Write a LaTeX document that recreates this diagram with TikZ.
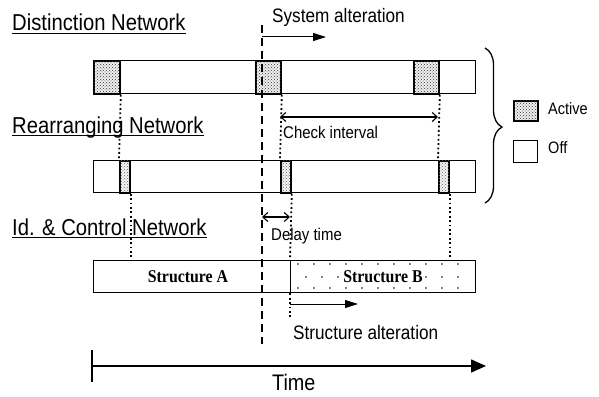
\documentclass[tikz,border=0pt]{standalone}
\usepackage{fontspec}
\setmainfont{Liberation Sans}
\newfontfamily\tnr{Liberation Serif}
\usepackage{graphicx}
\usetikzlibrary{arrows.meta,decorations.pathreplacing,patterns}
\newcommand\cnd[1]{\scalebox{0.88}[1]{#1}}
\newcommand\fs[1]{\fontsize{#1}{#1}\selectfont}
\tikzset{
  lbl/.style={inner sep=0pt, anchor=base west},
  blk/.style 2 args={anchor=north west, inner sep=0pt, minimum width=#1pt, minimum height=#2pt},
  bar/.style={draw, line width=1.3pt, fill=white},
  act/.style={draw, line width=1.8pt, fill=gray!12, postaction={pattern=crosshatch dots, pattern color=black!80}},
  actl/.style={draw, line width=1.8pt, fill=gray!8, postaction={pattern=crosshatch dots, pattern color=black!60}},
  dotl/.style={line width=1.8pt, dash pattern=on 1.8pt off 2.6pt},
  dashl/.style={line width=2pt, dash pattern=on 8pt off 5pt},
  dim/.style={line width=1.1pt, {Straight Barb[length=5pt,width=9pt]}-{Straight Barb[length=5pt,width=9pt]}},
  tri/.style={line width=1.2pt, -{Triangle[length=13pt,width=8pt]}},
  uline/.style={line width=1.2pt}
}
\begin{document}
\begin{tikzpicture}[x=1pt,y=-1pt]
\useasboundingbox (0,0) rectangle (599,396);

% headings
\node[lbl] (hd) at (12,31) {\fs{23}\cnd{Distinction Network}};
\draw[uline] ([yshift=-2.5pt]hd.base west) -- ([yshift=-2.5pt]hd.base east);
\node[lbl] (hr) at (12,133) {\fs{23}\cnd{Rearranging Network}};
\draw[uline] ([yshift=-2.5pt]hr.base west) -- ([yshift=-2.5pt]hr.base east);
\node[lbl] (hi) at (12,235) {\fs{23}\cnd{Id. \& Control Network}};
\draw[uline] ([yshift=-2.5pt]hi.base west) -- ([yshift=-2.5pt]hi.base east);

% bars
\node[bar, blk={382}{33}] (dn) at (93,60) {};
\node[bar, blk={382}{32}] (rn) at (93,160) {};
\node[bar, blk={382}{32}] (sn) at (93,260) {};
\node[bar, blk={185}{32}] (sB) at (290,260) {};

% dots of structure B
\foreach \y in {264,288} {
  \foreach \x in {298,314,...,470} { \fill (\x,\y) circle (0.8pt); }
}
\foreach \x in {306,322,338,426,442,458} { \fill (\x,277) circle (0.8pt); }

% active blocks
\node[act, blk={26}{33}] (d1) at (93,60) {};
\node[act, blk={25}{33}] (d2) at (255,60) {};
\node[act, blk={25}{33}] (d3) at (413,60) {};
\node[actl, blk={10}{32}] (r1) at (119,160) {};
\node[actl, blk={10}{32}] (r2) at (280,160) {};
\node[actl, blk={10}{32}] (r3) at (438,160) {};

% structure labels
\node[inner sep=0pt] (tA) at (188,277) {\tnr\bfseries\fs{18}\cnd{Structure A}};
\node[inner sep=1pt, fill=white] (tB) at (383,277) {\tnr\bfseries\fs{18}\cnd{Structure B}};

% dotted guides
\coordinate (sbe) at (290,318);
\draw[dotl] (d1.south east) -- (r1.north west);
\draw[dotl] (r1.south east) -- (r1.south east |- sn.north);
\draw[dotl] (d2.south east) -- (r2.north west);
\draw[dotl] (r2.south east) -- (sB.north west);
\draw[dotl] (sB.south west) -- (sbe);
\draw[dotl] (d3.south east) -- (r3.north west);
\draw[dotl] (r3.south east) -- (r3.south east |- sn.north);

% system alteration line
\coordinate (dtop) at (262,25);
\coordinate (dbot) at (262,344);
\draw[dashl] (dtop) -- (dbot);
\coordinate (sa1) at (262,37);
\coordinate (sa2) at (326,37);
\draw[tri, line width=1pt] (sa1) -- (sa2);
\node[lbl] (tsa) at (272,23) {\fs{19.5}\cnd{System alteration}};

% check interval
\coordinate (ci1) at (280,117);
\coordinate (ci2) at (438,117);
\draw[dim] (ci1) -- (ci2);
\node[lbl] (tci) at (283,138) {\fs{17}\cnd{Check interval}};

% delay time
\coordinate (dt1) at (262,217);
\coordinate (dt2) at (290,217);
\draw[dim] (dt1) -- (dt2);
\node[lbl] (tdt) at (271,240) {\fs{17}\cnd{Delay time}};

% structure alteration
\coordinate (st1) at (290,304);
\coordinate (st2) at (358,304);
\draw[tri, line width=1pt] (st1) -- (st2);
\node[lbl] (tst) at (293,339) {\fs{19.5}\cnd{Structure alteration}};

% time axis
\coordinate (t0) at (92,366);
\coordinate (t1) at (486,366);
\coordinate (tk1) at (92,350);
\coordinate (tk2) at (92,382);
\draw[line width=1.5pt, -{Triangle[length=15pt,width=13pt]}] (t0) -- (t1);
\draw[line width=1.5pt] (tk1) -- (tk2);
\node[lbl] (tt) at (272,390) {\fs{22.5}\cnd{Time}};

% brace
\coordinate (b1) at (485,48);
\coordinate (b2) at (485,203);
\draw[line width=1.3pt, decorate, decoration={brace, amplitude=17pt, aspect=0.51}] (b1) -- (b2);

% legend
\node[act, blk={24}{20}] (la) at (513,100) {};
\node[lbl] (tla) at (548,114) {\fs{16.5}\cnd{Active}};
\node[draw, line width=1.3pt, blk={24}{22}] (lo) at (513,140) {};
\node[lbl] (tlo) at (548,153) {\fs{16.5}\cnd{Off}};
\end{tikzpicture}
\end{document}
